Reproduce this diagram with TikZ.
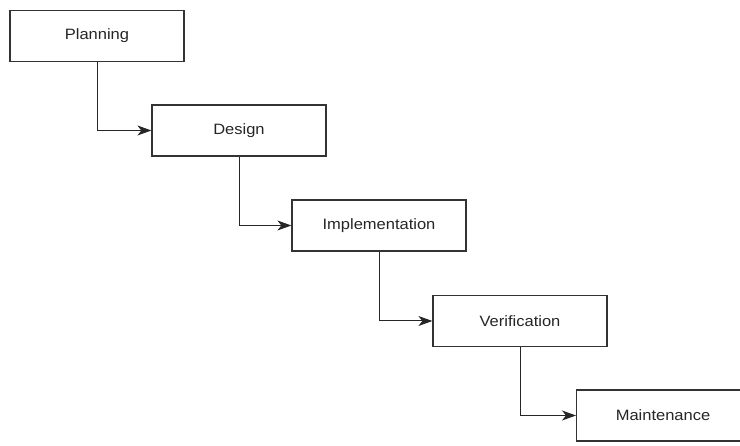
\documentclass[tikz,border=0pt]{standalone}
\usepackage{fontspec}
\setmainfont{Liberation Sans}[FakeStretch=1.1]
\usetikzlibrary{arrows.meta}
\begin{document}
\begin{tikzpicture}[x=1pt,y=-1pt,
  stage/.style={draw=black!80, line width=1.2pt, minimum width=174pt, minimum height=51pt, inner sep=0pt, font=\fontsize{15}{18}\selectfont, text=black!85, fill=white},
  label/.style={font=\fontsize{15}{18}\selectfont, text=black!85, inner sep=0pt},
  link/.style={draw=black!85, line width=1pt, -{Stealth[length=14pt,width=10pt,inset=4pt]}}]
\useasboundingbox (0,0) rectangle (740,446);
\node[stage] (p) at (97,36) {Planning};
\node[stage] (d) at (239,130.5) {Design};
\node[stage] (i) at (379,225.5) {Implementation};
\node[stage] (v) at (520,321) {Verification};
\node[stage, minimum width=210pt, anchor=west] (m) at (576,415.5) {};
\node[label] (mt) at (663,415.5) {Maintenance};
\draw[link] (p.south) |- (d.west);
\draw[link] (d.south) |- (i.west);
\draw[link] (i.south) |- (v.west);
\draw[link] (v.south) |- (m.west);
\end{tikzpicture}
\end{document}
